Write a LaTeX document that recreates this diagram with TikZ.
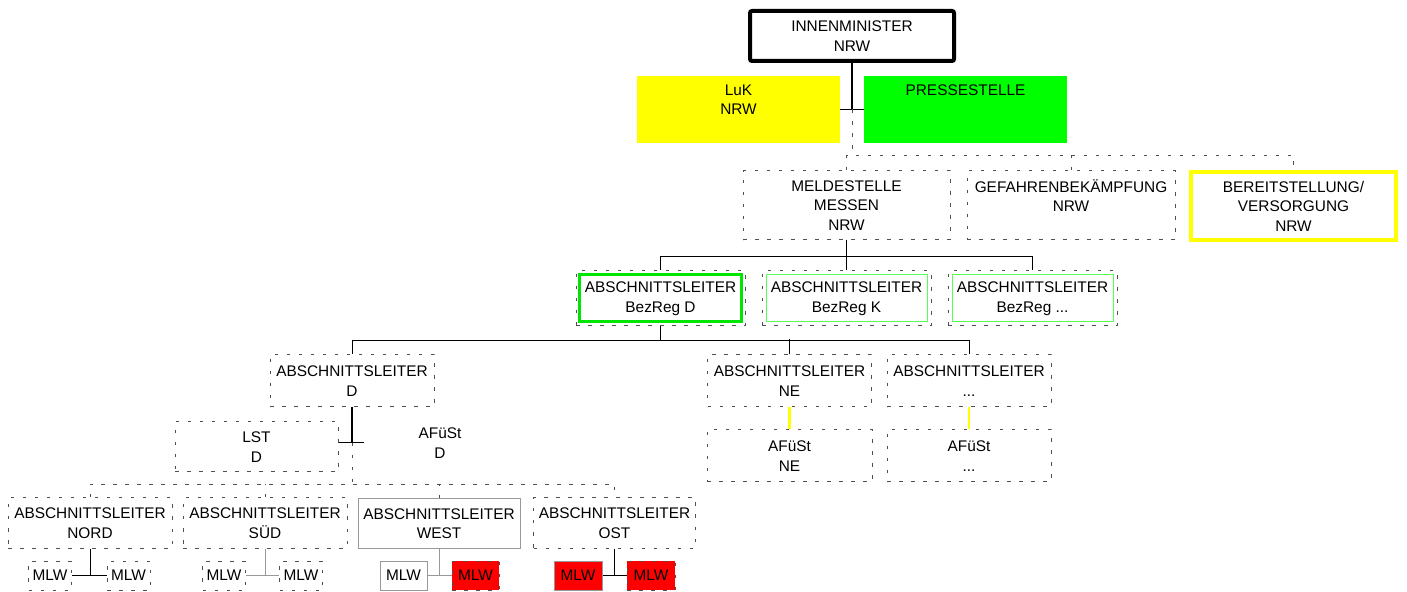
\documentclass[tikz,border=0pt]{standalone}
\usepackage{fontspec}
\setmainfont{Liberation Sans}
\definecolor{lukyellow}{HTML}{FFFF00}
\definecolor{pressgreen}{HTML}{00FF00}
\definecolor{bezgreen}{HTML}{00E600}
\definecolor{lightgreen}{HTML}{55FF55}
\definecolor{mlwred}{HTML}{FF0000}
\definecolor{frame}{HTML}{999999}
\definecolor{dashgray}{HTML}{505050}
\begin{document}
\begin{tikzpicture}[x=0.5pt,y=-0.5pt,
    font=\fontsize{7.7}{9.75}\selectfont,
    box/.style={inner sep=0pt,align=center,minimum width=#1},
    dbox/.style={box=#1,draw=dashgray,line width=0.5pt,dash pattern=on 1.75pt off 4.25pt},
    sbox/.style={box=#1,draw=frame,line width=0.5pt},
    dline/.style={draw=dashgray,line width=0.5pt,dash pattern=on 1.75pt off 4.25pt},
    conn/.style={line width=0.5pt},
    yline/.style={draw=lukyellow,line width=1.3pt}]
    \useasboundingbox (0,0) rectangle (1407,592);

    \node[box=102pt,minimum height=25pt,draw,line width=2pt,rounded corners=1pt] (inn) at (852,36) {INNENMINISTER\\NRW};
    \node[box=101.5pt,minimum height=33.5pt,fill=lukyellow] (luk) at (738.5,109.5) {LuK\\NRW\\~};
    \node[box=101.5pt,minimum height=33.5pt,fill=pressgreen] (press) at (965.5,109.5) {PRESSESTELLE\\~\\~};
    \coordinate (j1) at (inn.south |- luk.east);
    \draw[line width=1pt] (inn.south) -- (j1);
    \draw[conn] (luk.east) -- (press.west);
    \draw[dline] (j1) -- ++(0,47);

    \node[dbox=103.5pt,minimum height=34.5pt] (meld) at (846.5,205.5) {MELDESTELLE\\MESSEN\\NRW};
    \node[dbox=104pt,minimum height=34.5pt] (gefahr) at (1071,205.5) {GEFAHRENBEKÄMPFUNG\\NRW\\~};
    \node[box=102.5pt,minimum height=34pt,draw=lukyellow,line width=2pt] (bereit) at (1293.5,206) {BEREITSTELLUNG/\\VERSORGUNG\\NRW};
    \draw[dline] (meld.north) -- ++(0,-15) -| (bereit.north);
    \draw[dline] (gefahr.north) -- ++(0,-15);

    \node[dbox=84.5pt,minimum height=27.5pt] (bezD) at (660.5,298.5) {};
    \node[box=81pt,minimum height=23.5pt,draw=bezgreen,line width=1.5pt] (bezDi) at (bezD) {ABSCHNITTSLEITER\\BezReg D};
    \node[dbox=84.5pt,minimum height=27.5pt] (bezK) at (846.5,298.5) {};
    \node[box=80.5pt,minimum height=23.5pt,draw=lightgreen,line width=0.5pt] (bezKi) at (bezK) {ABSCHNITTSLEITER\\BezReg K};
    \node[dbox=84.5pt,minimum height=27.5pt] (bezX) at (1032.5,298.5) {};
    \node[box=80.5pt,minimum height=23.5pt,draw=lightgreen,line width=0.5pt] (bezXi) at (bezX) {ABSCHNITTSLEITER\\BezReg ...};
    \draw[conn] (meld.south) -- ++(0,16) -| (bezD.north);
    \draw[conn] (meld.south) -- ++(0,16) -| (bezX.north);
    \draw[conn] (meld.south) -- (bezK.north);

    \node[dbox=82pt,minimum height=26pt] (alD) at (352,381) {ABSCHNITTSLEITER\\D};
    \node[dbox=82pt,minimum height=26pt] (alNE) at (789.5,381) {ABSCHNITTSLEITER\\NE};
    \node[dbox=82pt,minimum height=26pt] (alX) at (969,381) {ABSCHNITTSLEITER\\...};
    \draw[conn] (bezD.south) -- ++(0,14) -| (alD.north);
    \draw[conn] (bezD.south) -- ++(0,14) -| (alX.north);
    \draw[conn] (alNE.north) -- ++(0,-15);

    \node[dbox=82.5pt,minimum height=26pt] (afNE) at (789.5,456) {AFüSt\\NE};
    \node[dbox=82pt,minimum height=26pt] (afX) at (969,456) {AFüSt\\...};
    \draw[yline] (alNE.south) -- (afNE.north);
    \draw[yline] (alX.south) -- (afX.north);

    \node[dbox=81.5pt,minimum height=25pt] (lst) at (256.5,447) {LST\\D};
    \node[box=76pt] (afD) at (440,443) {AFüSt\\D};
    \draw[line width=1pt] (alD.south) -- (alD.south |- afD.west);
    \draw[conn] (lst.east |- afD.west) -- (afD.west);
    \draw[dline] (alD.south |- afD.west) -- ++(0,42);

    \node[dbox=82pt,minimum height=25pt] (alN) at (90,523) {ABSCHNITTSLEITER\\NORD};
    \node[dbox=82pt,minimum height=25pt] (alS) at (265,523) {ABSCHNITTSLEITER\\SÜD};
    \node[sbox=81pt,minimum height=24.5pt] (alW) at (439,523.5) {ABSCHNITTSLEITER\\WEST};
    \node[dbox=81pt,minimum height=25pt] (alO) at (614.5,523) {ABSCHNITTSLEITER\\OST};
    \draw[dline] (alN.north) -- ++(0,-13) -| (alO.north);
    \foreach \n in {alS,alW}
        \draw[dline] (\n.north) -- ++(0,-13);

    \node[dbox=21.5pt,minimum height=14.5pt] (mlwN1) at (50,575.5) {MLW};
    \node[dbox=21.5pt,minimum height=14.5pt] (mlwN2) at (128.5,575.5) {MLW};
    \node[dbox=21.5pt,minimum height=14.5pt] (mlwS1) at (224,575.5) {MLW};
    \node[dbox=21.5pt,minimum height=14.5pt] (mlwS2) at (301,575.5) {MLW};
    \node[sbox=23.5pt,minimum height=14.5pt] (mlwW1) at (403.5,575.5) {MLW};
    \node[dbox=23.5pt,minimum height=14.5pt,fill=mlwred] (mlwW2) at (475.5,575.5) {MLW};
    \node[sbox=24pt,minimum height=14.5pt,fill=mlwred] (mlwO1) at (578,575.5) {MLW};
    \node[dbox=24pt,minimum height=14.5pt,fill=mlwred] (mlwO2) at (651,575.5) {MLW};
    \foreach \a/\l/\r/\col in {alN/mlwN1/mlwN2/black,alS/mlwS1/mlwS2/frame,alW/mlwW1/mlwW2/frame,alO/mlwO1/mlwO2/black}{
        \draw[conn,\col] (\a.south) -- (\a.south |- \l.east);
        \draw[conn,\col] (\l.east) -- (\r.west);
    }
\end{tikzpicture}
\end{document}
